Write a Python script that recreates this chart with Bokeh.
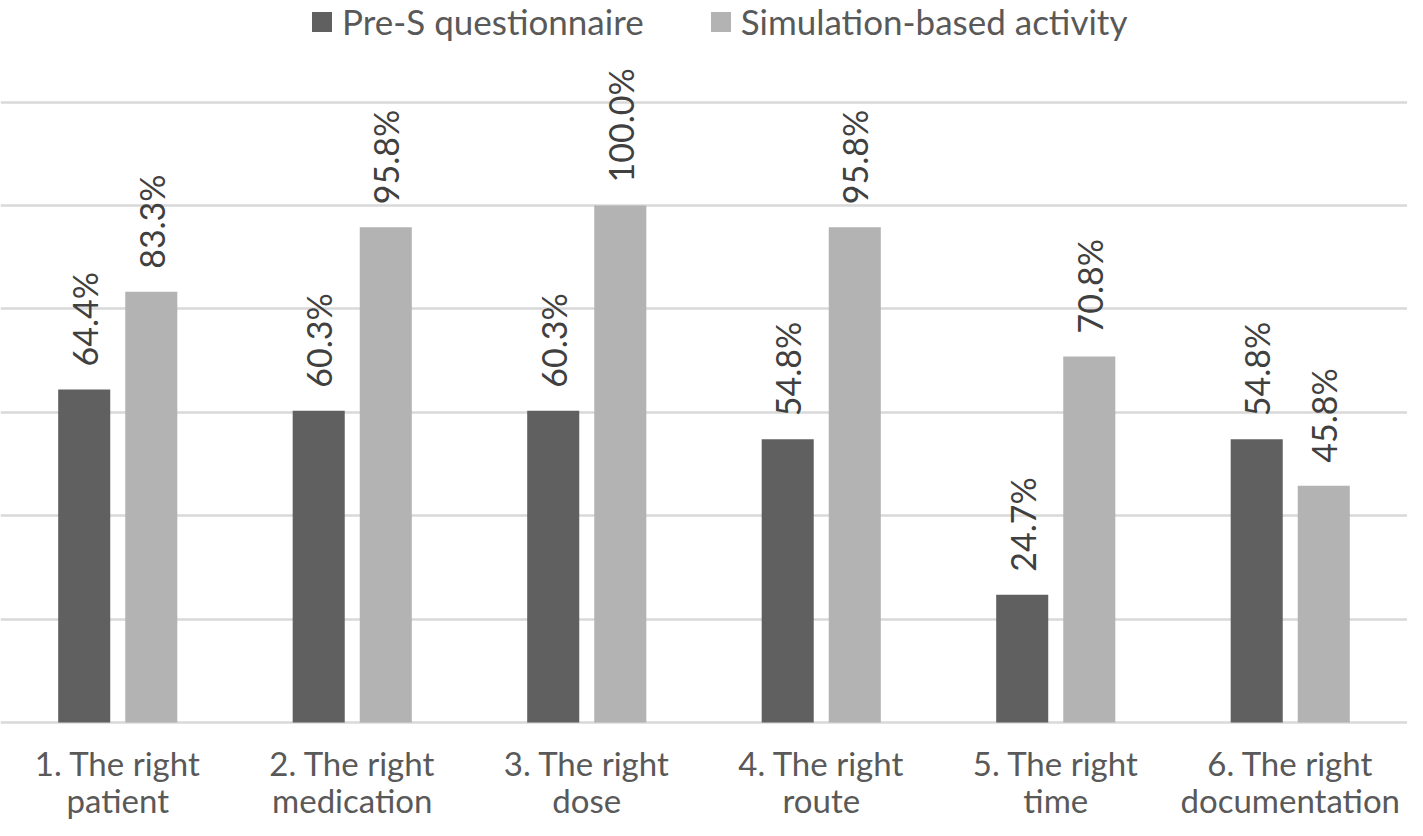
from bokeh.plotting import figure
from bokeh.models import Range1d, FixedTicker, Legend, LegendItem, ColumnDataSource
from bokeh.core.properties import value
from bokeh.embed import file_html
from bokeh.resources import INLINE

categories_line1 = ["1. The right", "2. The right", "3. The right", "4. The right", "5. The right", "6. The right"]
categories_line2 = ["patient", "medication", "dose", "route", "time", "documentation"]
pre_s = [64.4, 60.3, 60.3, 54.8, 24.7, 54.8]
simulation = [83.3, 95.8, 100.0, 95.8, 70.8, 45.8]
series_names = ["Pre-S questionnaire", "Simulation-based activity"]
grid_ticks = [0, 20, 40, 60, 80, 100, 120]

DARK = "#606060"
LIGHT = "#b3b3b3"
FONT = "Lato"

W, H = 1407, 820
n = len(pre_s)
px_per_unit_x = W / n
px_per_unit_y = 5.17
base_px = 722
y_top = base_px / px_per_unit_y
y_bot = y_top - H / px_per_unit_y

p = figure(width=W, height=H, output_backend="svg", toolbar_location=None,
           x_range=Range1d(0, n),
           y_range=Range1d(y_bot, y_top),
           min_border=0, min_border_left=0, min_border_right=0,
           min_border_top=0, min_border_bottom=0)
p.outline_line_color = None
p.xaxis.visible = False
p.yaxis.visible = False
p.xgrid.visible = False
p.ygrid.ticker = FixedTicker(ticks=grid_ticks)
p.ygrid.grid_line_color = "#d9d9d9"
p.ygrid.grid_line_width = 2.5
p.background_fill_color = "white"
p.border_fill_color = "white"

centers = [i + 0.5 for i in range(n)]
off = 0.143
bw = 0.222
xd = [c - off for c in centers]
xl = [c + off for c in centers]

src_d = ColumnDataSource(dict(x=xd, top=pre_s, lab=[f"{v:.1f}%" for v in pre_s]))
src_l = ColumnDataSource(dict(x=xl, top=simulation, lab=[f"{v:.1f}%" for v in simulation]))

r1 = p.vbar(x="x", top="top", bottom=0, width=bw, source=src_d, fill_color=DARK, line_color=None)
r2 = p.vbar(x="x", top="top", bottom=0, width=bw, source=src_l, fill_color=LIGHT, line_color=None)

for src in (src_d, src_l):
    p.text(x="x", y="top", text="lab", source=src, angle=1.5708, y_offset=-23,
           text_align="left", text_baseline="middle", text_font=value(FONT),
           text_font_size="34px", text_color="#404040")

lab_src = ColumnDataSource(dict(x=centers, l1=categories_line1, l2=categories_line2,
                                y1=[-(762 - base_px) / px_per_unit_y] * n,
                                y2=[-(799 - base_px) / px_per_unit_y] * n))
p.text(x="x", y="y1", text="l1", source=lab_src, text_align="center", text_baseline="middle",
       text_font=value(FONT), text_font_size="33px", text_color="#595959")
p.text(x="x", y="y2", text="l2", source=lab_src, text_align="center", text_baseline="middle",
       text_font=value(FONT), text_font_size="33px", text_color="#595959")

legend = Legend(items=[LegendItem(label=series_names[0], renderers=[r1]),
                       LegendItem(label=series_names[1], renderers=[r2])],
                location=(309, H - 42), orientation="horizontal",
                glyph_width=25, glyph_height=25, label_standoff=8, spacing=64,
                padding=0, margin=0, border_line_color=None, background_fill_alpha=0,
                label_text_font=FONT, label_text_font_size="35px", label_text_color="#595959",
                label_height=40)
p.add_layout(legend)

open("out.html", "w").write(file_html(p, INLINE))
